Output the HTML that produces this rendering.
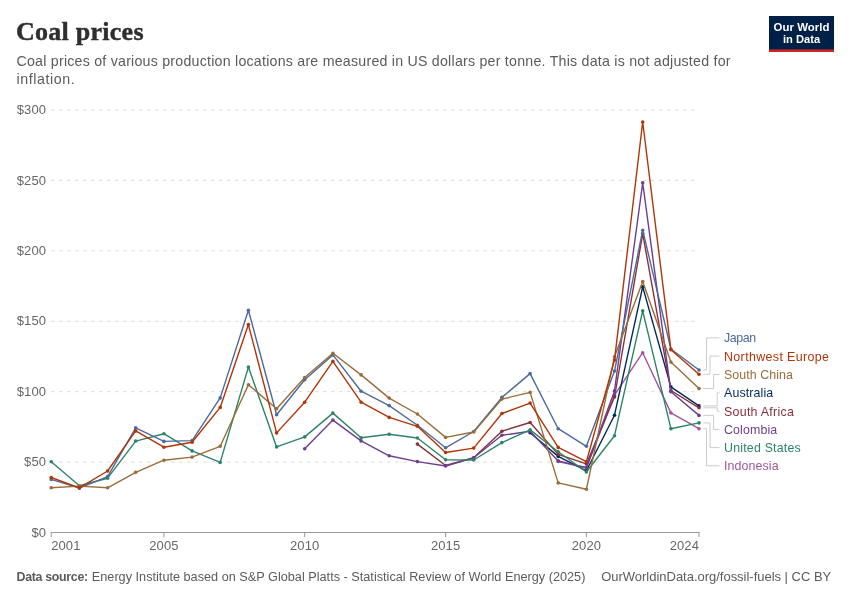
<!DOCTYPE html>
<html lang="en"><head><meta charset="utf-8"><title>Coal prices</title>
<style>
html,body{margin:0;padding:0;background:#fff;}
body{width:850px;height:600px;overflow:hidden;position:relative;font-family:"Liberation Sans",sans-serif;}
svg{position:absolute;left:0;top:0;display:block}
svg text{font-family:"Liberation Sans",sans-serif;}
.title{font-family:"Liberation Serif",serif;font-weight:700;font-size:26px;fill:#2e2e2e;stroke:#2e2e2e;stroke-width:0.45px;}
.sub{font-size:14.2px;fill:#5b5b5b;}
.tick{font-size:13px;fill:#666;letter-spacing:0.1px}
.lab{font-size:12.4px;}
.foot{font-size:12.7px;fill:#5b5b5b;}
.logo{font-size:11.4px;font-weight:700;fill:#fff;}
</style></head><body>
<svg width="850" height="600" viewBox="0 0 850 600">
<rect width="850" height="600" fill="#fff"/>
<text class="title" x="16" y="39.5" textLength="127.5" lengthAdjust="spacing">Coal prices</text>
<text class="sub" x="16.5" y="66" textLength="714" lengthAdjust="spacing">Coal prices of various production locations are measured in US dollars per tonne. This data is not adjusted for</text>
<text class="sub" x="16.5" y="84" textLength="58.3" lengthAdjust="spacing">inflation.</text>
<g id="logo"><rect x="769" y="16" width="65" height="36" fill="#002147"/><rect x="769" y="49.4" width="65" height="2.6" fill="#ce261e"/>
<text class="logo" x="773.6" y="30.7" textLength="55.8" lengthAdjust="spacing">Our World</text><text class="logo" x="783" y="42.8" textLength="37.2" lengthAdjust="spacingAndGlyphs">in Data</text></g>

<g stroke="#ddd" stroke-width="1" stroke-dasharray="3.5,4.5" fill="none">
<path d="M51,462.08H699"/>
<path d="M51,391.67H699"/>
<path d="M51,321.25H699"/>
<path d="M51,250.84H699"/>
<path d="M51,180.42H699"/>
<path d="M51,110.01H699"/>
</g>
<g class="tick" text-anchor="end">
<text class="tick" x="46.1" y="536.6">$0</text>
<text class="tick" x="46.1" y="466.2">$50</text>
<text class="tick" x="46.1" y="395.8">$100</text>
<text class="tick" x="46.1" y="325.4">$150</text>
<text class="tick" x="46.1" y="255.0">$200</text>
<text class="tick" x="46.1" y="184.6">$250</text>
<text class="tick" x="46.1" y="114.2">$300</text>
</g>
<g stroke="#999" stroke-width="1" fill="none"><path d="M50.8,532.5H699.7"/>
<path d="M51.2,532.5v4.7"/>
<path d="M163.9,532.5v4.7"/>
<path d="M304.7,532.5v4.7"/>
<path d="M445.6,532.5v4.7"/>
<path d="M586.4,532.5v4.7"/>
<path d="M699.0,532.5v4.7"/>
</g>
<text class="tick" x="51.2" y="549.9">2001</text>
<text class="tick" x="163.9" y="549.9" text-anchor="middle">2005</text>
<text class="tick" x="304.7" y="549.9" text-anchor="middle">2010</text>
<text class="tick" x="445.6" y="549.9" text-anchor="middle">2015</text>
<text class="tick" x="586.4" y="549.9" text-anchor="middle">2020</text>
<text class="tick" x="699.0" y="549.9" text-anchor="end">2024</text>
<g stroke="#ccc" stroke-width="1" fill="none">
<path d="M703.3,370.0H706.5V337.9H719.6"/>
<path d="M703.3,374.3H710V356.1H719.6"/>
<path d="M703.3,388.6H713.6V374.4H719.6"/>
<path d="M703.3,405.9H717.2V392.8H719.6"/>
<path d="M703.3,407.8H717.2V411.2H719.6"/>
<path d="M703.3,415.4H713.6V429.4H719.6"/>
<path d="M703.3,422.9H710V447.6H719.6"/>
<path d="M703.3,428.7H706.5V465.8H719.6"/>
</g>
<g><polyline points="558.2,461.5 586.4,467.8 614.5,395.2 642.7,352.7 670.9,412.9 699.0,428.7" fill="none" stroke="#A2559C" stroke-width="1.4" stroke-linejoin="round" stroke-linecap="round"/>
<g fill="#A2559C"><circle cx="558.2" cy="461.5" r="1.8"/><circle cx="586.4" cy="467.8" r="1.8"/><circle cx="614.5" cy="395.2" r="1.8"/><circle cx="642.7" cy="352.7" r="1.8"/><circle cx="670.9" cy="412.9" r="1.8"/><circle cx="699.0" cy="428.7" r="1.8"/></g></g>
<g><polyline points="530.1,432.7 558.2,456.4 586.4,470.8 614.5,415.2 642.7,286.9 670.9,386.9 699.0,405.9" fill="none" stroke="#00295B" stroke-width="1.4" stroke-linejoin="round" stroke-linecap="round"/>
<g fill="#00295B"><circle cx="530.1" cy="432.7" r="1.8"/><circle cx="558.2" cy="456.4" r="1.8"/><circle cx="586.4" cy="470.8" r="1.8"/><circle cx="614.5" cy="415.2" r="1.8"/><circle cx="642.7" cy="286.9" r="1.8"/><circle cx="670.9" cy="386.9" r="1.8"/><circle cx="699.0" cy="405.9" r="1.8"/></g></g>
<g><polyline points="417.4,444.1 445.6,465.5 473.7,457.8 501.9,431.2 530.1,422.5 558.2,454.4 586.4,463.9 614.5,397.0 642.7,233.6 670.9,390.5 699.0,407.8" fill="none" stroke="#883039" stroke-width="1.4" stroke-linejoin="round" stroke-linecap="round"/>
<g fill="#883039"><circle cx="417.4" cy="444.1" r="1.8"/><circle cx="445.6" cy="465.5" r="1.8"/><circle cx="473.7" cy="457.8" r="1.8"/><circle cx="501.9" cy="431.2" r="1.8"/><circle cx="530.1" cy="422.5" r="1.8"/><circle cx="558.2" cy="454.4" r="1.8"/><circle cx="586.4" cy="463.9" r="1.8"/><circle cx="614.5" cy="397.0" r="1.8"/><circle cx="642.7" cy="233.6" r="1.8"/><circle cx="670.9" cy="390.5" r="1.8"/><circle cx="699.0" cy="407.8" r="1.8"/></g></g>
<g><polyline points="304.7,448.8 332.9,420.1 361.1,440.9 389.2,455.8 417.4,461.6 445.6,466.0 473.7,457.8 501.9,435.3 530.1,431.3 558.2,460.9 586.4,467.8 614.5,390.9 642.7,182.8 670.9,391.8 699.0,415.4" fill="none" stroke="#6D3E91" stroke-width="1.4" stroke-linejoin="round" stroke-linecap="round"/>
<g fill="#6D3E91"><circle cx="304.7" cy="448.8" r="1.8"/><circle cx="332.9" cy="420.1" r="1.8"/><circle cx="361.1" cy="440.9" r="1.8"/><circle cx="389.2" cy="455.8" r="1.8"/><circle cx="417.4" cy="461.6" r="1.8"/><circle cx="445.6" cy="466.0" r="1.8"/><circle cx="473.7" cy="457.8" r="1.8"/><circle cx="501.9" cy="435.3" r="1.8"/><circle cx="530.1" cy="431.3" r="1.8"/><circle cx="558.2" cy="460.9" r="1.8"/><circle cx="586.4" cy="467.8" r="1.8"/><circle cx="614.5" cy="390.9" r="1.8"/><circle cx="642.7" cy="182.8" r="1.8"/><circle cx="670.9" cy="391.8" r="1.8"/><circle cx="699.0" cy="415.4" r="1.8"/></g></g>
<g><polyline points="51.2,461.8 79.4,485.7 107.6,478.2 135.7,441.1 163.9,433.7 192.1,450.9 220.2,462.4 248.4,367.1 276.6,446.9 304.7,436.9 332.9,413.1 361.1,437.7 389.2,434.3 417.4,438.0 445.6,459.8 473.7,460.0 501.9,442.6 530.1,429.9 558.2,451.8 586.4,472.0 614.5,435.7 642.7,310.9 670.9,428.7 699.0,422.9" fill="none" stroke="#2C8465" stroke-width="1.4" stroke-linejoin="round" stroke-linecap="round"/>
<g fill="#2C8465"><circle cx="51.2" cy="461.8" r="1.8"/><circle cx="79.4" cy="485.7" r="1.8"/><circle cx="107.6" cy="478.2" r="1.8"/><circle cx="135.7" cy="441.1" r="1.8"/><circle cx="163.9" cy="433.7" r="1.8"/><circle cx="192.1" cy="450.9" r="1.8"/><circle cx="220.2" cy="462.4" r="1.8"/><circle cx="248.4" cy="367.1" r="1.8"/><circle cx="276.6" cy="446.9" r="1.8"/><circle cx="304.7" cy="436.9" r="1.8"/><circle cx="332.9" cy="413.1" r="1.8"/><circle cx="361.1" cy="437.7" r="1.8"/><circle cx="389.2" cy="434.3" r="1.8"/><circle cx="417.4" cy="438.0" r="1.8"/><circle cx="445.6" cy="459.8" r="1.8"/><circle cx="473.7" cy="460.0" r="1.8"/><circle cx="501.9" cy="442.6" r="1.8"/><circle cx="530.1" cy="429.9" r="1.8"/><circle cx="558.2" cy="451.8" r="1.8"/><circle cx="586.4" cy="472.0" r="1.8"/><circle cx="614.5" cy="435.7" r="1.8"/><circle cx="642.7" cy="310.9" r="1.8"/><circle cx="670.9" cy="428.7" r="1.8"/><circle cx="699.0" cy="422.9" r="1.8"/></g></g>
<g><polyline points="51.2,479.4 79.4,488.1 107.6,476.6 135.7,427.9 163.9,441.4 192.1,440.6 220.2,397.9 248.4,310.2 276.6,414.7 304.7,379.7 332.9,354.9 361.1,391.2 389.2,405.6 417.4,425.2 445.6,447.8 473.7,431.5 501.9,397.4 530.1,373.6 558.2,428.7 586.4,446.3 614.5,371.1 642.7,230.2 670.9,349.0 699.0,370.0" fill="none" stroke="#4C6A9C" stroke-width="1.4" stroke-linejoin="round" stroke-linecap="round"/>
<g fill="#4C6A9C"><circle cx="51.2" cy="479.4" r="1.8"/><circle cx="79.4" cy="488.1" r="1.8"/><circle cx="107.6" cy="476.6" r="1.8"/><circle cx="135.7" cy="427.9" r="1.8"/><circle cx="163.9" cy="441.4" r="1.8"/><circle cx="192.1" cy="440.6" r="1.8"/><circle cx="220.2" cy="397.9" r="1.8"/><circle cx="248.4" cy="310.2" r="1.8"/><circle cx="276.6" cy="414.7" r="1.8"/><circle cx="304.7" cy="379.7" r="1.8"/><circle cx="332.9" cy="354.9" r="1.8"/><circle cx="361.1" cy="391.2" r="1.8"/><circle cx="389.2" cy="405.6" r="1.8"/><circle cx="417.4" cy="425.2" r="1.8"/><circle cx="445.6" cy="447.8" r="1.8"/><circle cx="473.7" cy="431.5" r="1.8"/><circle cx="501.9" cy="397.4" r="1.8"/><circle cx="530.1" cy="373.6" r="1.8"/><circle cx="558.2" cy="428.7" r="1.8"/><circle cx="586.4" cy="446.3" r="1.8"/><circle cx="614.5" cy="371.1" r="1.8"/><circle cx="642.7" cy="230.2" r="1.8"/><circle cx="670.9" cy="349.0" r="1.8"/><circle cx="699.0" cy="370.0" r="1.8"/></g></g>
<g><polyline points="51.2,487.7 79.4,486.1 107.6,487.8 135.7,472.3 163.9,460.2 192.1,457.1 220.2,446.3 248.4,384.7 276.6,408.7 304.7,377.5 332.9,353.3 361.1,374.9 389.2,398.1 417.4,414.0 445.6,437.4 473.7,432.0 501.9,399.1 530.1,392.4 558.2,482.9 586.4,489.3 614.5,356.7 642.7,281.6 670.9,362.1 699.0,388.6" fill="none" stroke="#996D39" stroke-width="1.4" stroke-linejoin="round" stroke-linecap="round"/>
<g fill="#996D39"><circle cx="51.2" cy="487.7" r="1.8"/><circle cx="79.4" cy="486.1" r="1.8"/><circle cx="107.6" cy="487.8" r="1.8"/><circle cx="135.7" cy="472.3" r="1.8"/><circle cx="163.9" cy="460.2" r="1.8"/><circle cx="192.1" cy="457.1" r="1.8"/><circle cx="220.2" cy="446.3" r="1.8"/><circle cx="248.4" cy="384.7" r="1.8"/><circle cx="276.6" cy="408.7" r="1.8"/><circle cx="304.7" cy="377.5" r="1.8"/><circle cx="332.9" cy="353.3" r="1.8"/><circle cx="361.1" cy="374.9" r="1.8"/><circle cx="389.2" cy="398.1" r="1.8"/><circle cx="417.4" cy="414.0" r="1.8"/><circle cx="445.6" cy="437.4" r="1.8"/><circle cx="473.7" cy="432.0" r="1.8"/><circle cx="501.9" cy="399.1" r="1.8"/><circle cx="530.1" cy="392.4" r="1.8"/><circle cx="558.2" cy="482.9" r="1.8"/><circle cx="586.4" cy="489.3" r="1.8"/><circle cx="614.5" cy="356.7" r="1.8"/><circle cx="642.7" cy="281.6" r="1.8"/><circle cx="670.9" cy="362.1" r="1.8"/><circle cx="699.0" cy="388.6" r="1.8"/></g></g>
<g><polyline points="51.2,477.5 79.4,487.9 107.6,471.0 135.7,430.9 163.9,447.2 192.1,442.2 220.2,407.4 248.4,324.6 276.6,432.9 304.7,402.2 332.9,361.4 361.1,402.2 389.2,417.4 417.4,426.3 445.6,452.5 473.7,448.1 501.9,413.5 530.1,403.1 558.2,447.4 586.4,461.7 614.5,360.1 642.7,122.0 670.9,349.7 699.0,374.3" fill="none" stroke="#B13507" stroke-width="1.4" stroke-linejoin="round" stroke-linecap="round"/>
<g fill="#B13507"><circle cx="51.2" cy="477.5" r="1.8"/><circle cx="79.4" cy="487.9" r="1.8"/><circle cx="107.6" cy="471.0" r="1.8"/><circle cx="135.7" cy="430.9" r="1.8"/><circle cx="163.9" cy="447.2" r="1.8"/><circle cx="192.1" cy="442.2" r="1.8"/><circle cx="220.2" cy="407.4" r="1.8"/><circle cx="248.4" cy="324.6" r="1.8"/><circle cx="276.6" cy="432.9" r="1.8"/><circle cx="304.7" cy="402.2" r="1.8"/><circle cx="332.9" cy="361.4" r="1.8"/><circle cx="361.1" cy="402.2" r="1.8"/><circle cx="389.2" cy="417.4" r="1.8"/><circle cx="417.4" cy="426.3" r="1.8"/><circle cx="445.6" cy="452.5" r="1.8"/><circle cx="473.7" cy="448.1" r="1.8"/><circle cx="501.9" cy="413.5" r="1.8"/><circle cx="530.1" cy="403.1" r="1.8"/><circle cx="558.2" cy="447.4" r="1.8"/><circle cx="586.4" cy="461.7" r="1.8"/><circle cx="614.5" cy="360.1" r="1.8"/><circle cx="642.7" cy="122.0" r="1.8"/><circle cx="670.9" cy="349.7" r="1.8"/><circle cx="699.0" cy="374.3" r="1.8"/></g></g>
<text class="lab" x="724" y="342.4" fill="#4C6A9C" textLength="32.1" lengthAdjust="spacing">Japan</text>
<text class="lab" x="724" y="360.6" fill="#B13507" textLength="105.0" lengthAdjust="spacing">Northwest Europe</text>
<text class="lab" x="724" y="378.9" fill="#996D39" textLength="68.8" lengthAdjust="spacing">South China</text>
<text class="lab" x="724" y="397.3" fill="#00295B" textLength="49.2" lengthAdjust="spacing">Australia</text>
<text class="lab" x="724" y="415.7" fill="#883039" textLength="69.9" lengthAdjust="spacing">South Africa</text>
<text class="lab" x="724" y="433.9" fill="#6D3E91" textLength="53.2" lengthAdjust="spacing">Colombia</text>
<text class="lab" x="724" y="452.1" fill="#2C8465" textLength="76.8" lengthAdjust="spacing">United States</text>
<text class="lab" x="724" y="470.3" fill="#A2559C" textLength="54.6" lengthAdjust="spacing">Indonesia</text>
<text class="foot" x="16.5" y="580.6" font-weight="700" style="font-size:12.4px" textLength="71.6" lengthAdjust="spacing">Data source:</text>
<text class="foot" x="91.8" y="580.6" textLength="493.6" lengthAdjust="spacing">Energy Institute based on S&amp;P Global Platts - Statistical Review of World Energy (2025)</text>
<text class="foot" x="601.2" y="580.6" style="font-size:13px" textLength="230" lengthAdjust="spacing">OurWorldinData.org/fossil-fuels | CC BY</text>
</svg></body></html>
